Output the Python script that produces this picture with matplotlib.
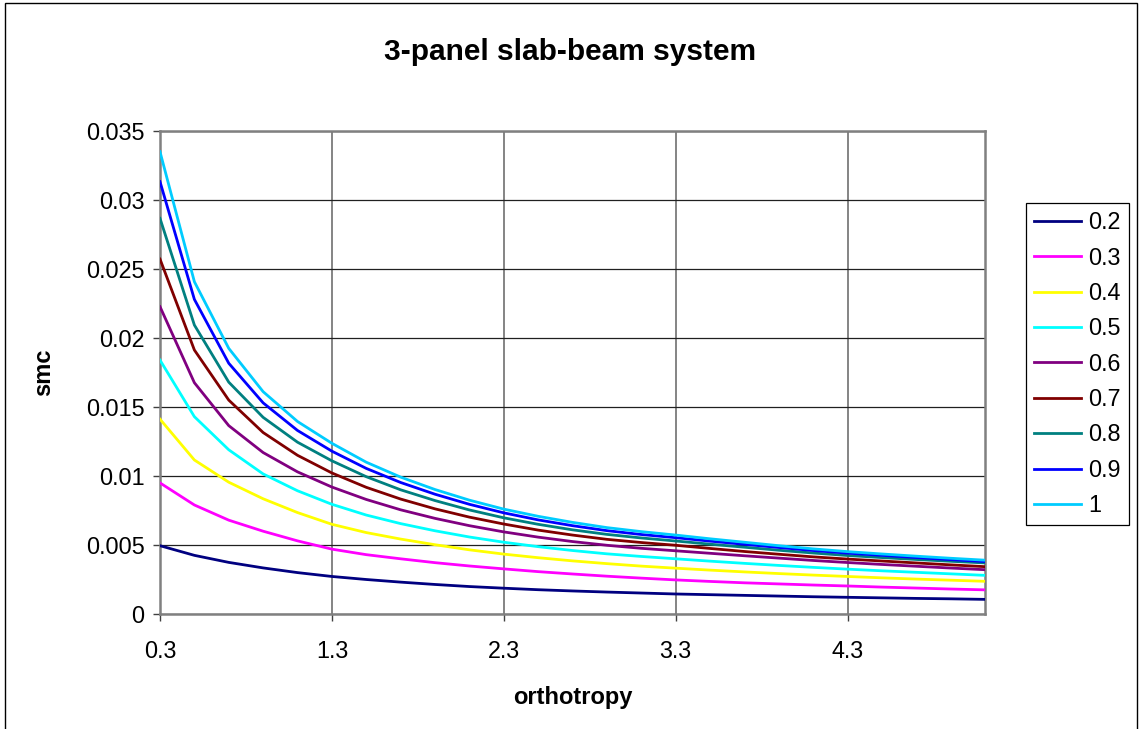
import matplotlib
matplotlib.use("Agg")
import matplotlib.pyplot as plt
from matplotlib.patches import Rectangle

plt.rcParams['font.family'] = ['Liberation Sans', 'DejaVu Sans']

W, H = 1141, 729

# orthotropy categories (step 0.2)
orthotropy = [0.3, 0.5, 0.7, 0.9, 1.1, 1.3, 1.5, 1.7, 1.9, 2.1, 2.3, 2.5, 2.7,
              2.9, 3.1, 3.3, 3.5, 3.7, 3.9, 4.1, 4.3, 4.5, 4.7, 4.9, 5.1]

smc_02 = [0.00495, 0.00425, 0.00374, 0.00334, 0.00300, 0.00272, 0.00250, 0.00231,
          0.00214, 0.00199, 0.00187, 0.00176, 0.00167, 0.00159, 0.00152, 0.00145,
          0.00140, 0.00135, 0.00130, 0.00125, 0.00121, 0.00117, 0.00113, 0.00110,
          0.00106]
smc_03 = [0.00950, 0.00790, 0.00680, 0.00600, 0.00530, 0.00470, 0.00430, 0.00400,
          0.00372, 0.00348, 0.00327, 0.00307, 0.00290, 0.00274, 0.00260, 0.00247,
          0.00236, 0.00226, 0.00218, 0.00210, 0.00203, 0.00195, 0.00188, 0.00181,
          0.00175]
smc_04 = [0.01412, 0.01116, 0.00955, 0.00835, 0.00735, 0.00650, 0.00590, 0.00543,
          0.00502, 0.00465, 0.00434, 0.00408, 0.00385, 0.00365, 0.00347, 0.00332,
          0.00318, 0.00305, 0.00293, 0.00282, 0.00272, 0.00262, 0.00253, 0.00245,
          0.00237]
smc_05 = [0.01840, 0.01430, 0.01190, 0.01015, 0.00893, 0.00795, 0.00717, 0.00655,
          0.00603, 0.00558, 0.00520, 0.00488, 0.00460, 0.00436, 0.00417, 0.00400,
          0.00383, 0.00367, 0.00352, 0.00338, 0.00325, 0.00313, 0.00302, 0.00291,
          0.00280]
smc_06 = [0.02227, 0.01676, 0.01365, 0.01170, 0.01030, 0.00920, 0.00830, 0.00755,
          0.00693, 0.00640, 0.00595, 0.00557, 0.00525, 0.00498, 0.00476, 0.00458,
          0.00440, 0.00422, 0.00405, 0.00388, 0.00373, 0.00359, 0.00346, 0.00333,
          0.00321]
smc_07 = [0.02572, 0.01913, 0.01550, 0.01315, 0.01150, 0.01022, 0.00918, 0.00833,
          0.00762, 0.00702, 0.00652, 0.00608, 0.00572, 0.00541, 0.00518, 0.00498,
          0.00475, 0.00453, 0.00433, 0.00414, 0.00398, 0.00384, 0.00370, 0.00356,
          0.00343]
smc_08 = [0.02867, 0.02094, 0.01680, 0.01425, 0.01245, 0.01110, 0.00995, 0.00900,
          0.00822, 0.00754, 0.00697, 0.00650, 0.00610, 0.00577, 0.00551, 0.00529,
          0.00506, 0.00484, 0.00462, 0.00442, 0.00424, 0.00409, 0.00395, 0.00382,
          0.00370]
smc_09 = [0.03133, 0.02280, 0.01817, 0.01530, 0.01330, 0.01180, 0.01055, 0.00953,
          0.00868, 0.00795, 0.00733, 0.00682, 0.00640, 0.00604, 0.00576, 0.00553,
          0.00528, 0.00505, 0.00482, 0.00460, 0.00441, 0.00425, 0.00409, 0.00394,
          0.00380]
smc_10 = [0.03350, 0.02408, 0.01925, 0.01611, 0.01395, 0.01237, 0.01100, 0.00992,
          0.00902, 0.00825, 0.00760, 0.00708, 0.00664, 0.00626, 0.00597, 0.00572,
          0.00545, 0.00520, 0.00495, 0.00472, 0.00452, 0.00435, 0.00419, 0.00404,
          0.00390]

series_labels = ['0.2', '0.3', '0.4', '0.5', '0.6', '0.7', '0.8', '0.9', '1']
series_values = [smc_02, smc_03, smc_04, smc_05, smc_06, smc_07, smc_08, smc_09, smc_10]
colors = ['#000080', '#FF00FF', '#FFFF00', '#00FFFF', '#800080',
          '#800000', '#008080', '#0000FF', '#00CCFF']

x_ticks = [0.3, 1.3, 2.3, 3.3, 4.3]
x_ticklabels = ['0.3', '1.3', '2.3', '3.3', '4.3']
y_ticks = [0, 0.005, 0.01, 0.015, 0.02, 0.025, 0.03, 0.035]
y_ticklabels = ['0', '0.005', '0.01', '0.015', '0.02', '0.025', '0.03', '0.035']

fig = plt.figure(figsize=(W / 100, H / 100), dpi=100)
ax = fig.add_axes([160 / W, 1 - 614 / H, (985 - 160) / W, (614 - 131) / H])

for vals, lab, col in zip(series_values, series_labels, colors):
    ax.plot(orthotropy, vals, color=col, linewidth=2.0, label=lab, zorder=3)

ax.set_xlim(0.3, 5.1)
ax.set_ylim(0, 0.035)
ax.set_xticks(x_ticks)
ax.set_xticklabels(x_ticklabels)
ax.set_yticks(y_ticks)
ax.set_yticklabels(y_ticklabels)
ax.tick_params(axis='both', labelsize=16.8, direction='out', length=5,
               width=1, color='#404040')
ax.tick_params(axis='y', pad=6)
ax.tick_params(axis='x', pad=14)

ax.grid(axis='y', color='#202020', linewidth=0.9, zorder=1)
ax.grid(axis='x', color='#707070', linewidth=1.2, zorder=1)
for sp in ax.spines.values():
    sp.set_color('#808080')
    sp.set_linewidth(1.8)

ax.set_xlabel('orthotropy', fontsize=17, fontweight='bold', labelpad=16)
ax.set_ylabel('smc', fontsize=17, fontweight='bold', labelpad=22)

fig.text(0.5, 1 - 52 / H, '3-panel slab-beam system', ha='center', va='center',
         fontsize=21.5, fontweight='bold')

leg = ax.legend(loc='upper left', bbox_to_anchor=(1026 / W, 1 - 203 / H),
                bbox_transform=fig.transFigure, borderaxespad=0,
                fontsize=16.8, frameon=True, fancybox=False, framealpha=1,
                edgecolor='black', handlelength=2.0, handletextpad=0.3,
                labelspacing=0.53, borderpad=0.35)
leg.get_frame().set_linewidth(0.9)

# chart area border
fig.add_artist(Rectangle((5 / W, -0.02), (1137 - 5) / W, 1.02 - 3 / H,
                         transform=fig.transFigure, fill=False,
                         edgecolor='black', linewidth=1.0))

fig.savefig('out.png', dpi=100)
